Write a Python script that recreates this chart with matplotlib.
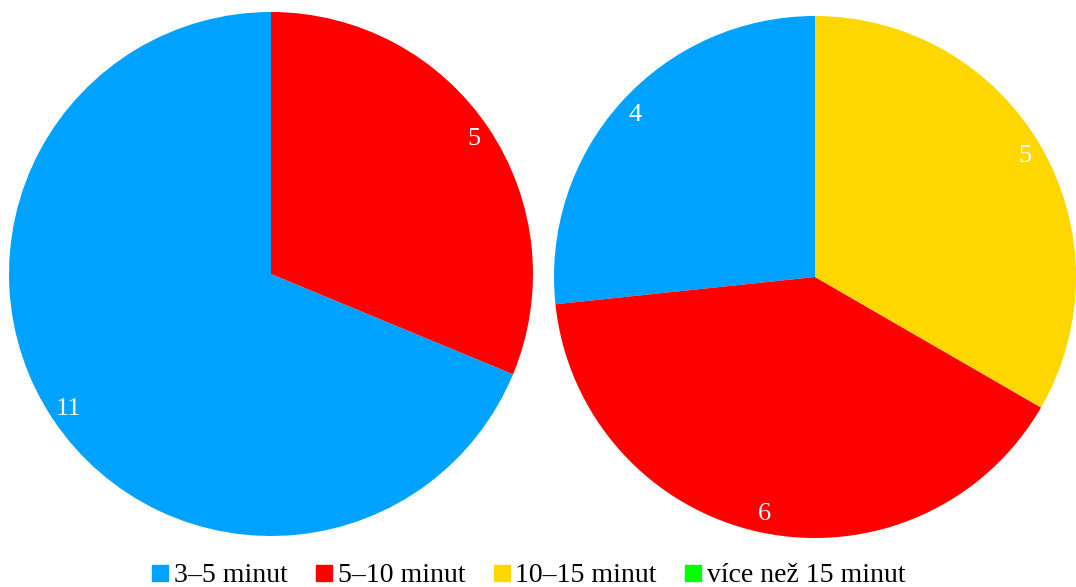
import matplotlib
matplotlib.use("Agg")
import matplotlib.pyplot as plt
from matplotlib.lines import Line2D

categories = ["3–5 minut", "5–10 minut", "10–15 minut", "více než 15 minut"]
left_values = [11, 5, 0, 0]
right_values = [4, 6, 5, 0]
colors = ["#00A2FF", "#FF0000", "#FFD700", "#00FF00"]

plt.rcParams['font.family'] = ['Liberation Serif', 'DejaVu Serif']

fig = plt.figure(figsize=(10.76, 5.87), dpi=100)
ax = fig.add_axes([0, 0, 1, 1])
ax.set_xlim(0, 1076)
ax.set_ylim(587, 0)
ax.set_aspect('equal')
ax.axis('off')


def draw(values, center, radius):
    vals = [v for v in values if v > 0]
    cols = [c for v, c in zip(values, colors) if v > 0]
    total = sum(vals)
    wedges, texts, autotexts = ax.pie(
        vals, colors=cols, startangle=-90, counterclock=False,
        center=center, radius=radius, frame=True,
        autopct=lambda p: f"{round(p * total / 100):d}",
        pctdistance=0.93,
        textprops=dict(color='white', fontsize=19),
        wedgeprops=dict(linewidth=0))
    return wedges

draw(left_values, (271, 274), 262)
draw(right_values, (815, 277), 261)
ax.set_xlim(0, 1076)
ax.set_ylim(587, 0)
ax.axis('off')

handles = [Line2D([], [], marker='s', linestyle='none', markersize=12,
                  markerfacecolor=c, markeredgecolor=c) for c in colors]
fig.legend(handles, categories, loc='lower center', bbox_to_anchor=(0.49, -0.045),
           ncol=4, frameon=False, fontsize=20, handletextpad=0.1,
           columnspacing=0.9, handlelength=0.8)

fig.savefig("out.png", dpi=100)
